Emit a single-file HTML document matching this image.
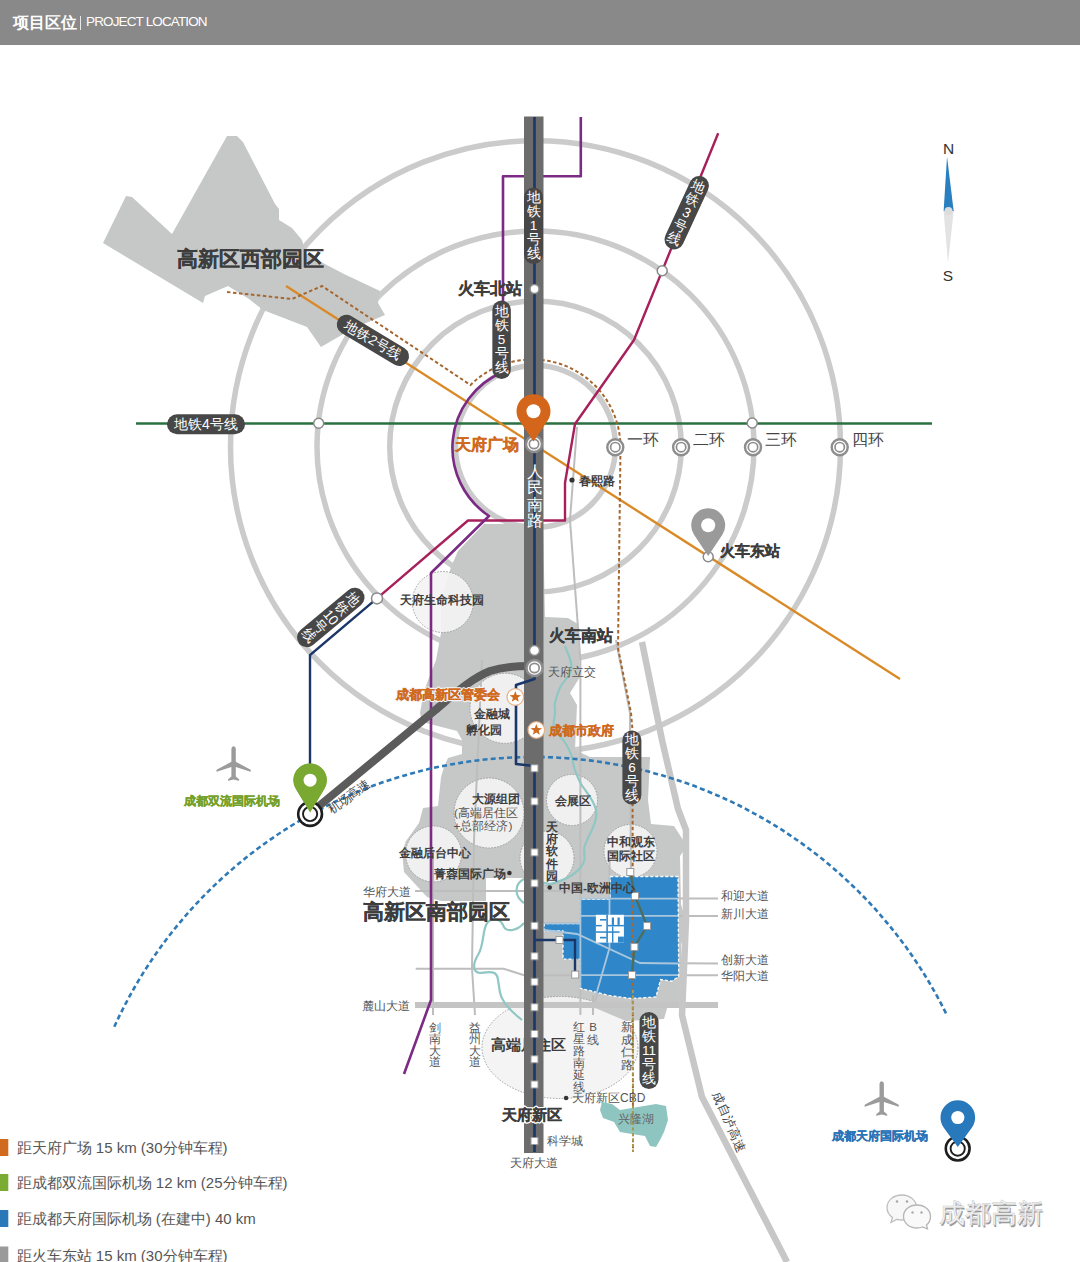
<!DOCTYPE html>
<html><head><meta charset="utf-8"><style>
html,body{margin:0;padding:0;background:#fff;}
body{width:1080px;height:1262px;position:relative;overflow:hidden;font-family:"Liberation Sans",sans-serif;}
#hdr{position:absolute;left:0;top:0;width:1080px;height:45px;background:#898989;}
#hdr .cn{position:absolute;left:13px;top:13px;font-size:16px;font-weight:bold;color:#fff;line-height:20px;}
#hdr .sep{position:absolute;left:80px;top:15.5px;width:1px;height:14px;background:#e8e8e8;}
#hdr .en{position:absolute;left:86px;top:13px;font-size:13.5px;color:#fff;line-height:18px;letter-spacing:-0.86px;}
svg{position:absolute;left:0;top:0;}
svg text{font-family:"Liberation Sans",sans-serif;}
</style></head><body>
<div id="hdr"><span class="cn">项目区位</span><span class="sep"></span><span class="en">PROJECT LOCATION</span></div>
<svg width="1080" height="1262" viewBox="0 0 1080 1262">
<ellipse cx="535.5" cy="446.5" rx="80" ry="81" fill="none" stroke="#cbcbcb" stroke-width="5.5"/>
<ellipse cx="535.5" cy="446.5" rx="145.8" ry="145.4" fill="none" stroke="#cbcbcb" stroke-width="5.5"/>
<ellipse cx="535.5" cy="446.5" rx="218.5" ry="215.5" fill="none" stroke="#cbcbcb" stroke-width="5.5"/>
<ellipse cx="535.5" cy="446.5" rx="305" ry="305.8" fill="none" stroke="#cbcbcb" stroke-width="5.5"/>
<polygon points="227,136 237,136 243,142 275,204 279,209 279,220 292,228 302,240 306,254 344,274 380,291 378,303 385,315 352,329 321,347 307,327 263,310 249,299 228,286 205,296 203,303 103,243 126,196 132,197 172,234" fill="#c6c8c7" />
<polygon points="484,524 543,524 545,617 568,618 578,624 580,677 570,693 577,705 575,750 590,757 650,757 648,800 651,824 674,826 687,846 680,856 681,904 687,924 681,945 683,985 679,1005 543,1005 543,878 486,878 486,901 441,901 427,897 404,872 402,852 406,841 419,823 423,808 438,806 441,777 444,767 448,758 462,754 462,740 457,731 422,722 420,713 424,691 430,675 436,660 441,633 441,600 447,581 451,567 458,551" fill="#c6c8c7" />
<circle cx="442.8" cy="602" r="30.5" fill="#f3f3f3" fill-opacity="0.92" stroke="#9c9c9c" stroke-width="1" stroke-dasharray="1.5 1.5"/>
<circle cx="505" cy="708.3" r="35" fill="#f3f3f3" fill-opacity="0.92" stroke="#9c9c9c" stroke-width="1" stroke-dasharray="1.5 1.5"/>
<circle cx="489" cy="813" r="35" fill="#f3f3f3" fill-opacity="0.92" stroke="#9c9c9c" stroke-width="1" stroke-dasharray="1.5 1.5"/>
<circle cx="572" cy="800" r="25.5" fill="#f3f3f3" fill-opacity="0.92" stroke="#9c9c9c" stroke-width="1" stroke-dasharray="1.5 1.5"/>
<circle cx="547" cy="858" r="27" fill="#f3f3f3" fill-opacity="0.92" stroke="#9c9c9c" stroke-width="1" stroke-dasharray="1.5 1.5"/>
<circle cx="433.5" cy="854" r="28" fill="#f3f3f3" fill-opacity="0.92" stroke="#9c9c9c" stroke-width="1" stroke-dasharray="1.5 1.5"/>
<circle cx="630.5" cy="851" r="26.5" fill="#f3f3f3" fill-opacity="0.92" stroke="#9c9c9c" stroke-width="1" stroke-dasharray="1.5 1.5"/>
<ellipse cx="560" cy="1047.5" rx="78" ry="51" fill="#f3f3f3" fill-opacity="0.92" stroke="#9c9c9c" stroke-width="1" stroke-dasharray="1.5 1.5"/>
<polyline points="577,427 570,520 580.4,660 580.4,1015" fill="none" stroke="#bdbdbd" stroke-width="2" />
<polyline points="616,640 630,713 630,730 632,1022" fill="none" stroke="#bdbdbd" stroke-width="2" />
<polyline points="482,660 474,840 472,968 475,1015" fill="none" stroke="#bdbdbd" stroke-width="2" />
<polyline points="433,850 433,1015" fill="none" stroke="#bdbdbd" stroke-width="2" />
<polyline points="415,891 677,891" fill="none" stroke="#bdbdbd" stroke-width="2" />
<polyline points="677,898.6 718,898.6" fill="none" stroke="#bdbdbd" stroke-width="2" />
<polyline points="580,915.9 718,915.9" fill="none" stroke="#bdbdbd" stroke-width="2" />
<polyline points="543,923 580,923" fill="none" stroke="#bdbdbd" stroke-width="2" />
<polyline points="544,930 577,934 640,963 718,963.5" fill="none" stroke="#bdbdbd" stroke-width="2" />
<polyline points="415.7,968.7 503.7,968.7 524,975.2 718,975.2" fill="none" stroke="#bdbdbd" stroke-width="2" />
<polyline points="609.5,860 609.5,948 593,1009" fill="none" stroke="#bdbdbd" stroke-width="2" />
<polyline points="593,995 593,1015" fill="none" stroke="#bdbdbd" stroke-width="2" />
<polygon points="588,1005 626,1021 664,1019 668,1005" fill="#c6c8c7" />
<polyline points="415,1005 718,1005" fill="none" stroke="#c4c4c4" stroke-width="6" />
<polyline points="642,642 662,740 678,809 686,830 686,920 682,1015 702,1097 787,1262" fill="none" stroke="#c7c7c7" stroke-width="6.5" stroke-linejoin="round"/>
<path d="M565,646 C568,655 573,662 571,670 C569,678 561,683 559,690 C556,698 554,703 555,710 C556,716 552,722 554,728 C557,735 563,738 566,744 C569,750 572,754 573,762 C574,770 577,776 581,784 C586,792 594,800 596,810 C598,822 590,832 585,845 C582,852 588,858 581,867 C574,876 562,881 550,884 L524,879 C514,884 514,896 524,903 M524,923 C518,930 506,934 503,925 C500,918 490,917 486,925 C482,935 484,945 478,955 C473,963 472,972 480,973 C490,972 497,970 498,980 C500,990 499,994 503,1000 C506,1006 512,1012 522,1020" fill="none" stroke="#8fc7c4" stroke-width="2.2"/>
<polygon points="610.3,876.5 678,876.5 678.7,976.5 671.7,981.2 660.6,979.6 655.9,997 630.7,998.5 608.7,995.4 580.4,988.3 580.4,959.2 563,959.2 563,930.8 544.2,930.8 544.2,923.7 580.4,923.7 580.4,899.4 610.3,899.4" fill="#2f87c9" stroke="#ffffff" stroke-width="1.3" stroke-dasharray="3 2"/>
<polyline points="580.4,898.6 678,898.6" fill="none" stroke="#a9c6dd" stroke-width="1.8" />
<polyline points="580.4,915.9 678,915.9" fill="none" stroke="#a9c6dd" stroke-width="1.8" />
<polyline points="544.2,923.5 580.4,923.5" fill="none" stroke="#a9c6dd" stroke-width="1.6" />
<polyline points="544.2,930 577,934 640,963 678,963.5" fill="none" stroke="#a9c6dd" stroke-width="1.8" />
<polyline points="580.4,975.2 678,975.2" fill="none" stroke="#a9c6dd" stroke-width="1.8" />
<polyline points="609.5,876.5 609.5,948 596,995" fill="none" stroke="#a9c6dd" stroke-width="1.8" />
<polyline points="580.4,899 580.4,988" fill="none" stroke="#a9c6dd" stroke-width="1.8" />
<rect x="595.9" y="914.8" width="28" height="27.8" fill="#fff"/>
<g fill="#2f87c9"><rect x="606.3" y="914.8" width="1.6" height="27.8"/><rect x="595.9" y="924.9" width="5.9" height="1.5"/><rect x="608" y="924.9" width="15.9" height="1.5"/><rect x="595.9" y="931.3" width="23.7" height="1.5"/><rect x="612" y="926.4" width="1.4" height="16.2"/><rect x="600" y="919" width="6.3" height="1.6"/><rect x="611.8" y="917.5" width="2.2" height="7.4"/><rect x="617.5" y="917.5" width="2.2" height="7.4"/><rect x="600" y="936.8" width="6.3" height="1.7"/><rect x="618" y="936.6" width="5.9" height="6"/></g>
<polyline points="136,423.5 932,423.5" fill="none" stroke="#2b7040" stroke-width="2.4" />
<polyline points="286,286 900,679" fill="none" stroke="#d98a27" stroke-width="2.4" />
<path d="M227,292 L292,299 L322,286 L470.5,385 A88,88 0 0 1 620.5,447 L618,648 L631,713 L632.5,730 L633,1152" fill="none" stroke="#a5672f" stroke-width="2" stroke-dasharray="3.5 2.5"/>
<polyline points="718.2,133.2 634,340 575,424 565,483 565,520.5 468,520.5 377,598.4" fill="none" stroke="#a71f5b" stroke-width="2.4" stroke-linejoin="round"/>
<polyline points="377,598.4 310,655 310,770" fill="none" stroke="#1b3668" stroke-width="2.4" />
<path d="M580.8,117 L580.8,176.3 L503,176.3 L503,372 A82,82 0 0 0 489,516 L431,573 L431,1000 L404,1074" fill="none" stroke="#7b2b84" stroke-width="2.6" stroke-linejoin="round"/>
<path d="M114.3,1026.8 A460.3,460.3 0 0 1 946.1,1013.6" fill="none" stroke="#2f7ab6" stroke-width="2.6" stroke-dasharray="5 3.2"/>
<path d="M313,811 L433,712 C452,696 470,679 490,671 C503,667 515,666 530,666" fill="none" stroke="#5b5b5b" stroke-width="8"/>
<text x="528.9" y="1045" font-size="14.8" fill="#3d3d3d" font-weight="bold" text-anchor="middle" dominant-baseline="central">高端居住区</text>
<rect x="524" y="116.5" width="19.5" height="1036.5" fill="#6c6c6c"/>
<polyline points="534.5,117 534.5,650" fill="none" stroke="#1b3668" stroke-width="2.6" />
<polyline points="534.5,668 534.5,679 516,685 516,764 534.5,766 534.5,1152" fill="none" stroke="#1b3668" stroke-width="2.6" stroke-linejoin="round"/>
<polyline points="534.5,940 575,940 575,975" fill="none" stroke="#1b3668" stroke-width="2.4" />
<polyline points="630.3,872 635,896 647,926 634.4,947 632,975" fill="none" stroke="#4b6e5e" stroke-width="2.4" />
<circle cx="534.5" cy="289" r="4.5" fill="#fff" stroke="#8a8a8a" stroke-width="1.5"/>
<circle cx="534.5" cy="650.4" r="5" fill="#fff" stroke="#8a8a8a" stroke-width="1.5"/>
<circle cx="534.5" cy="668" r="8" fill="#fff" stroke="#8d8d8d" stroke-width="2.4"/>
<circle cx="534.5" cy="668" r="4.7" fill="#fff" stroke="#8d8d8d" stroke-width="1.7"/>
<circle cx="534" cy="444" r="8" fill="#fff" stroke="#8d8d8d" stroke-width="2.4"/>
<circle cx="534" cy="444" r="4.7" fill="#fff" stroke="#8d8d8d" stroke-width="1.7"/>
<circle cx="318.7" cy="423.2" r="5" fill="#fff" stroke="#8a8a8a" stroke-width="1.5"/>
<circle cx="752.2" cy="423" r="5" fill="#fff" stroke="#8a8a8a" stroke-width="1.5"/>
<circle cx="662.2" cy="270.7" r="5" fill="#fff" stroke="#8a8a8a" stroke-width="1.5"/>
<circle cx="377" cy="598.4" r="5.5" fill="#fff" stroke="#8a8a8a" stroke-width="1.5"/>
<circle cx="708.2" cy="556.8" r="5" fill="#fff" stroke="#8a8a8a" stroke-width="1.5"/>
<circle cx="615.3" cy="447.2" r="8" fill="#fff" stroke="#8d8d8d" stroke-width="2.4"/>
<circle cx="615.3" cy="447.2" r="4.7" fill="#fff" stroke="#8d8d8d" stroke-width="1.7"/>
<circle cx="681.1" cy="447.2" r="8" fill="#fff" stroke="#8d8d8d" stroke-width="2.4"/>
<circle cx="681.1" cy="447.2" r="4.7" fill="#fff" stroke="#8d8d8d" stroke-width="1.7"/>
<circle cx="753" cy="447.2" r="8" fill="#fff" stroke="#8d8d8d" stroke-width="2.4"/>
<circle cx="753" cy="447.2" r="4.7" fill="#fff" stroke="#8d8d8d" stroke-width="1.7"/>
<circle cx="839.7" cy="447.2" r="8" fill="#fff" stroke="#8d8d8d" stroke-width="2.4"/>
<circle cx="839.7" cy="447.2" r="4.7" fill="#fff" stroke="#8d8d8d" stroke-width="1.7"/>
<rect x="531.0" y="764.8" width="7" height="7" fill="#fff" stroke="#9a9a9a" stroke-width="1"/>
<rect x="531.0" y="797.9" width="7" height="7" fill="#fff" stroke="#9a9a9a" stroke-width="1"/>
<rect x="531.0" y="848.9" width="7" height="7" fill="#fff" stroke="#9a9a9a" stroke-width="1"/>
<rect x="531.0" y="879.8" width="7" height="7" fill="#fff" stroke="#9a9a9a" stroke-width="1"/>
<rect x="531.0" y="922.3" width="7" height="7" fill="#fff" stroke="#9a9a9a" stroke-width="1"/>
<rect x="531.0" y="952.8" width="7" height="7" fill="#fff" stroke="#9a9a9a" stroke-width="1"/>
<rect x="531.0" y="978.3" width="7" height="7" fill="#fff" stroke="#9a9a9a" stroke-width="1"/>
<rect x="531.0" y="1003.8" width="7" height="7" fill="#fff" stroke="#9a9a9a" stroke-width="1"/>
<rect x="531.0" y="1030.5" width="7" height="7" fill="#fff" stroke="#9a9a9a" stroke-width="1"/>
<rect x="531.0" y="1055.8" width="7" height="7" fill="#fff" stroke="#9a9a9a" stroke-width="1"/>
<rect x="531.0" y="1081.0" width="7" height="7" fill="#fff" stroke="#9a9a9a" stroke-width="1"/>
<rect x="531.0" y="1137.5" width="7" height="7" fill="#fff" stroke="#9a9a9a" stroke-width="1"/>
<rect x="556.0" y="936.5" width="7" height="7" fill="#fff" stroke="#9a9a9a" stroke-width="1"/>
<rect x="571.7" y="971.1" width="7" height="7" fill="#fff" stroke="#9a9a9a" stroke-width="1"/>
<rect x="626.8" y="868.5" width="7" height="7" fill="#fff" stroke="#9a9a9a" stroke-width="1"/>
<rect x="631.5" y="892.5" width="7" height="7" fill="#fff" stroke="#9a9a9a" stroke-width="1"/>
<rect x="643.5" y="922.5" width="7" height="7" fill="#fff" stroke="#9a9a9a" stroke-width="1"/>
<rect x="630.9" y="943.5" width="7" height="7" fill="#fff" stroke="#9a9a9a" stroke-width="1"/>
<rect x="628.5" y="971.5" width="7" height="7" fill="#fff" stroke="#9a9a9a" stroke-width="1"/>
<g transform="translate(533.5,225.75) rotate(0)">
<rect x="-9.5" y="-38.25" width="19" height="76.5" rx="9.5" fill="#474747"/>
<text x="0" y="-28.20" font-size="13.5" fill="#fff" text-anchor="middle" dominant-baseline="central">地</text>
<text x="0" y="-14.10" font-size="13.5" fill="#fff" text-anchor="middle" dominant-baseline="central">铁</text>
<text x="0" y="0.00" font-size="13.5" fill="#fff" text-anchor="middle" dominant-baseline="central">1</text>
<text x="0" y="14.10" font-size="13.5" fill="#fff" text-anchor="middle" dominant-baseline="central">号</text>
<text x="0" y="28.20" font-size="13.5" fill="#fff" text-anchor="middle" dominant-baseline="central">线</text>
</g>
<g transform="translate(501.6,339.8) rotate(0)">
<rect x="-9.25" y="-39.2" width="18.5" height="78.4" rx="9.25" fill="#474747"/>
<text x="0" y="-28.20" font-size="13.5" fill="#fff" text-anchor="middle" dominant-baseline="central">地</text>
<text x="0" y="-14.10" font-size="13.5" fill="#fff" text-anchor="middle" dominant-baseline="central">铁</text>
<text x="0" y="0.00" font-size="13.5" fill="#fff" text-anchor="middle" dominant-baseline="central">5</text>
<text x="0" y="14.10" font-size="13.5" fill="#fff" text-anchor="middle" dominant-baseline="central">号</text>
<text x="0" y="28.20" font-size="13.5" fill="#fff" text-anchor="middle" dominant-baseline="central">线</text>
</g>
<g transform="translate(631.9,767.5) rotate(0)">
<rect x="-9.5" y="-37.0" width="19" height="74" rx="9.5" fill="#474747"/>
<text x="0" y="-27.60" font-size="13.5" fill="#fff" text-anchor="middle" dominant-baseline="central">地</text>
<text x="0" y="-13.80" font-size="13.5" fill="#fff" text-anchor="middle" dominant-baseline="central">铁</text>
<text x="0" y="0.00" font-size="13.5" fill="#fff" text-anchor="middle" dominant-baseline="central">6</text>
<text x="0" y="13.80" font-size="13.5" fill="#fff" text-anchor="middle" dominant-baseline="central">号</text>
<text x="0" y="27.60" font-size="13.5" fill="#fff" text-anchor="middle" dominant-baseline="central">线</text>
</g>
<g transform="translate(649,1050.5) rotate(0)">
<rect x="-9.5" y="-38.5" width="19" height="77" rx="9.5" fill="#474747"/>
<text x="0" y="-28.20" font-size="13.5" fill="#fff" text-anchor="middle" dominant-baseline="central">地</text>
<text x="0" y="-14.10" font-size="13.5" fill="#fff" text-anchor="middle" dominant-baseline="central">铁</text>
<text x="0" y="0.00" font-size="13.5" fill="#fff" text-anchor="middle" dominant-baseline="central">11</text>
<text x="0" y="14.10" font-size="13.5" fill="#fff" text-anchor="middle" dominant-baseline="central">号</text>
<text x="0" y="28.20" font-size="13.5" fill="#fff" text-anchor="middle" dominant-baseline="central">线</text>
</g>
<g transform="translate(686.7,212.7) rotate(24.8)">
<rect x="-9.75" y="-39.5" width="19.5" height="79" rx="9.75" fill="#474747"/>
<text x="0" y="-28.60" font-size="13.8" fill="#fff" text-anchor="middle" dominant-baseline="central">地</text>
<text x="0" y="-14.30" font-size="13.8" fill="#fff" text-anchor="middle" dominant-baseline="central">铁</text>
<text x="0" y="0.00" font-size="13.8" fill="#fff" text-anchor="middle" dominant-baseline="central">3</text>
<text x="0" y="14.30" font-size="13.8" fill="#fff" text-anchor="middle" dominant-baseline="central">号</text>
<text x="0" y="28.60" font-size="13.8" fill="#fff" text-anchor="middle" dominant-baseline="central">线</text>
</g>
<g transform="translate(330.75,617.4) rotate(50.2)">
<rect x="-9.75" y="-41.0" width="19.5" height="82" rx="9.75" fill="#474747"/>
<text x="0" y="-28.60" font-size="13.8" fill="#fff" text-anchor="middle" dominant-baseline="central">地</text>
<text x="0" y="-14.30" font-size="13.8" fill="#fff" text-anchor="middle" dominant-baseline="central">铁</text>
<text x="0" y="0.00" font-size="13.8" fill="#fff" text-anchor="middle" dominant-baseline="central">10</text>
<text x="0" y="14.30" font-size="13.8" fill="#fff" text-anchor="middle" dominant-baseline="central">号</text>
<text x="0" y="28.60" font-size="13.8" fill="#fff" text-anchor="middle" dominant-baseline="central">线</text>
</g>
<g transform="translate(372.9,340.4) rotate(31)">
<rect x="-40.5" y="-9.75" width="81" height="19.5" rx="9.75" fill="#474747"/>
<text x="0" y="0" font-size="13.8" fill="#fff" text-anchor="middle" dominant-baseline="central">地铁2号线</text>
</g>
<g transform="translate(206,424.3) rotate(0)">
<rect x="-39.0" y="-10.0" width="78" height="20" rx="10.0" fill="#474747"/>
<text x="0" y="0" font-size="14" fill="#fff" text-anchor="middle" dominant-baseline="central">地铁4号线</text>
</g>
<path d="M533.5,441.5 L519.45,420.87 A17,17 0 1 1 547.55,420.87 Z" fill="#d4661b"/>
<circle cx="533.5" cy="411.3" r="7" fill="#fff"/>
<path d="M708.2,556 L694.04,534.71 A17,17 0 1 1 722.36,534.71 Z" fill="#9a9a9a"/>
<circle cx="708.2" cy="525.3" r="7" fill="#fff"/>
<path d="M310.1,812.6 L295.79,788.81 A16.7,16.7 0 1 1 324.41,788.81 Z" fill="#7aa932"/>
<circle cx="310.1" cy="780.2" r="6.5" fill="#fff"/>
<circle cx="310.1" cy="814" r="11.9" fill="#fff" stroke="#1e1e1e" stroke-width="2.6"/>
<circle cx="310.1" cy="814" r="7.1" fill="#fff" stroke="#1e1e1e" stroke-width="1.9"/>
<circle cx="957.7" cy="1148.6" r="11.9" fill="#fff" stroke="#1e1e1e" stroke-width="2.6"/>
<circle cx="957.7" cy="1148.6" r="7.1" fill="#fff" stroke="#1e1e1e" stroke-width="1.9"/>
<path d="M310.1,812.6 L295.79,788.81 A16.7,16.7 0 1 1 324.41,788.81 Z" fill="#7aa932"/>
<circle cx="310.1" cy="780.2" r="6.5" fill="#fff"/>
<path d="M957.8,1147 L943.79,1127.65 A17.3,17.3 0 1 1 971.81,1127.65 Z" fill="#2878bc"/>
<circle cx="957.8" cy="1117.5" r="6.6" fill="#fff"/>
<circle cx="515.3" cy="697" r="8.3" fill="#fff" stroke="#e3b08a" stroke-width="1.2"/>
<polygon points="515.3,691.0 516.77,694.98 521.01,695.15 517.68,697.77 518.83,701.85 515.3,699.5 511.77,701.85 512.92,697.77 509.59,695.15 513.83,694.98" fill="#cf6a1f" />
<circle cx="536.3" cy="730" r="8.3" fill="#fff" stroke="#e3b08a" stroke-width="1.2"/>
<polygon points="536.3,724.0 537.77,727.98 542.01,728.15 538.68,730.77 539.83,734.85 536.3,732.5 532.77,734.85 533.92,730.77 530.59,728.15 534.83,727.98" fill="#cf6a1f" />
<g transform="translate(233.6,764) scale(1.0)" fill="#9b9b9b"><path d="M-2.2,-15 Q-2.2,-17.6 0,-17.8 Q2.2,-17.6 2.2,-15 L2.2,-2.2 L16.6,5.6 Q17.6,6.4 17,7.8 L2.2,2.9 L2.2,12.6 L5.4,15.2 Q6,16.4 5.2,16.8 L0,15.4 L-5.2,16.8 Q-6,16.4 -5.4,15.2 L-2.2,12.6 L-2.2,2.9 L-17,7.8 Q-17.6,6.4 -16.6,5.6 L-2.2,-2.2 Z"/></g>
<g transform="translate(881.7,1099) scale(1.0)" fill="#9b9b9b"><path d="M-2.2,-15 Q-2.2,-17.6 0,-17.8 Q2.2,-17.6 2.2,-15 L2.2,-2.2 L16.6,5.6 Q17.6,6.4 17,7.8 L2.2,2.9 L2.2,12.6 L5.4,15.2 Q6,16.4 5.2,16.8 L0,15.4 L-5.2,16.8 Q-6,16.4 -5.4,15.2 L-2.2,12.6 L-2.2,2.9 L-17,7.8 Q-17.6,6.4 -16.6,5.6 L-2.2,-2.2 Z"/></g>
<text x="176.5" y="258.5" font-size="21" fill="#3d3d3d" font-weight="bold" text-anchor="start" dominant-baseline="central" stroke="#3d3d3d" stroke-width="0.25">高新区西部园区</text>
<text x="457.5" y="288" font-size="15.9" fill="#3d3d3d" font-weight="bold" text-anchor="start" dominant-baseline="central"  stroke="#3d3d3d" stroke-width="0.3">火车北站</text>
<text x="454.8" y="444.6" font-size="15.75" fill="#cf6a1f" font-weight="bold" text-anchor="start" dominant-baseline="central"  stroke="#cf6a1f" stroke-width="0.3">天府广场</text>
<text x="534.5" y="471.5" font-size="16" fill="#ffffff" font-weight="normal" text-anchor="middle" dominant-baseline="central" >人</text>
<text x="534.5" y="487.8" font-size="16" fill="#ffffff" font-weight="normal" text-anchor="middle" dominant-baseline="central" >民</text>
<text x="534.5" y="504.1" font-size="16" fill="#ffffff" font-weight="normal" text-anchor="middle" dominant-baseline="central" >南</text>
<text x="534.5" y="520.4" font-size="16" fill="#ffffff" font-weight="normal" text-anchor="middle" dominant-baseline="central" >路</text>
<circle cx="572" cy="480" r="2.6" fill="#333"/>
<text x="579" y="480" font-size="11.7" fill="#3d3d3d" font-weight="bold" text-anchor="start" dominant-baseline="central" >春熙路</text>
<text x="627.3" y="439.5" font-size="15.8" fill="#444" font-weight="normal" text-anchor="start" dominant-baseline="central" >一环</text>
<text x="693.3" y="439.5" font-size="15.8" fill="#444" font-weight="normal" text-anchor="start" dominant-baseline="central" >二环</text>
<text x="765" y="439.5" font-size="15.8" fill="#444" font-weight="normal" text-anchor="start" dominant-baseline="central" >三环</text>
<text x="851.7" y="439.5" font-size="15.8" fill="#444" font-weight="normal" text-anchor="start" dominant-baseline="central" >四环</text>
<text x="719.5" y="550" font-size="15.4" fill="#3d3d3d" font-weight="bold" text-anchor="start" dominant-baseline="central"  stroke="#3d3d3d" stroke-width="0.3">火车东站</text>
<text x="400.4" y="599.7" font-size="12.1" fill="#3d3d3d" font-weight="bold" text-anchor="start" dominant-baseline="central" >天府生命科技园</text>
<text x="548.9" y="635.3" font-size="15.5" fill="#3d3d3d" font-weight="bold" text-anchor="start" dominant-baseline="central"  stroke="#3d3d3d" stroke-width="0.3">火车南站</text>
<text x="547.5" y="671.8" font-size="11.6" fill="#555" font-weight="normal" text-anchor="start" dominant-baseline="central" >天府立交</text>
<text x="395.6" y="694.5" font-size="13.2" fill="#fff" font-weight="bold" text-anchor="start" dominant-baseline="central" stroke="#f4f4f4" stroke-width="2.6" stroke-linejoin="round">成都高新区管委会</text>
<text x="395.6" y="694.5" font-size="13.2" fill="#cf6a1f" font-weight="bold" text-anchor="start" dominant-baseline="central"  stroke="#cf6a1f" stroke-width="0.3">成都高新区管委会</text>
<text x="548.5" y="730.6" font-size="13.2" fill="#cf6a1f" font-weight="bold" text-anchor="start" dominant-baseline="central"  stroke="#cf6a1f" stroke-width="0.3">成都市政府</text>
<text x="492" y="713.9" font-size="11.7" fill="#3d3d3d" font-weight="bold" text-anchor="middle" dominant-baseline="central" >金融城</text>
<text x="484" y="729.5" font-size="11.7" fill="#3d3d3d" font-weight="bold" text-anchor="middle" dominant-baseline="central" >孵化园</text>
<text x="183.5" y="801.3" font-size="12.3" fill="#73a12b" font-weight="bold" text-anchor="start" dominant-baseline="central" stroke="#73a12b" stroke-width="0.25">成都双流国际机场</text>
<text transform="translate(349,797) rotate(-36)" font-size="12.3" fill="#444" text-anchor="middle" dominant-baseline="central">机场高速</text>
<text x="495.5" y="799" font-size="12" fill="#3d3d3d" font-weight="bold" text-anchor="middle" dominant-baseline="central" >大源组团</text>
<text x="486" y="813" font-size="11.8" fill="#555" font-weight="normal" text-anchor="middle" dominant-baseline="central" >(高端居住区</text>
<text x="483" y="826" font-size="11.8" fill="#555" font-weight="normal" text-anchor="middle" dominant-baseline="central" >+总部经济)</text>
<text x="572.5" y="800" font-size="11.6" fill="#3d3d3d" font-weight="bold" text-anchor="middle" dominant-baseline="central" >会展区</text>
<text x="551.6" y="826.5" font-size="12.2" fill="#3d3d3d" font-weight="bold" text-anchor="middle" dominant-baseline="central" >天</text>
<text x="551.6" y="838.9" font-size="12.2" fill="#3d3d3d" font-weight="bold" text-anchor="middle" dominant-baseline="central" >府</text>
<text x="551.6" y="851.3" font-size="12.2" fill="#3d3d3d" font-weight="bold" text-anchor="middle" dominant-baseline="central" >软</text>
<text x="551.6" y="863.7" font-size="12.2" fill="#3d3d3d" font-weight="bold" text-anchor="middle" dominant-baseline="central" >件</text>
<text x="551.6" y="876.1" font-size="12.2" fill="#3d3d3d" font-weight="bold" text-anchor="middle" dominant-baseline="central" >园</text>
<text x="434.5" y="853.3" font-size="11.8" fill="#3d3d3d" font-weight="bold" text-anchor="middle" dominant-baseline="central" >金融后台中心</text>
<text x="434" y="873" font-size="11.7" fill="#3d3d3d" font-weight="bold" text-anchor="start" dominant-baseline="central" >菁蓉国际广场</text>
<circle cx="509.4" cy="873" r="2.3" fill="#333"/>
<circle cx="549.7" cy="887.5" r="2.3" fill="#333"/>
<text x="559.1" y="887.5" font-size="11.8" fill="#3d3d3d" font-weight="bold" text-anchor="start" dominant-baseline="central" >中国-欧洲中心</text>
<text x="630.5" y="842.4" font-size="11.8" fill="#3d3d3d" font-weight="bold" text-anchor="middle" dominant-baseline="central" >中和观东</text>
<text x="630.5" y="856" font-size="11.8" fill="#3d3d3d" font-weight="bold" text-anchor="middle" dominant-baseline="central" >国际社区</text>
<text x="363" y="891" font-size="11.75" fill="#555" font-weight="normal" text-anchor="start" dominant-baseline="central" >华府大道</text>
<text x="362.5" y="911.3" font-size="20.7" fill="#3d3d3d" font-weight="bold" text-anchor="start" dominant-baseline="central" stroke="#3d3d3d" stroke-width="0.25">高新区南部园区</text>
<text x="361.5" y="1005.3" font-size="11.75" fill="#555" font-weight="normal" text-anchor="start" dominant-baseline="central" >麓山大道</text>
<text x="435" y="1027.3" font-size="11.7" fill="#555" font-weight="normal" text-anchor="middle" dominant-baseline="central" >剑</text>
<text x="435" y="1038.7" font-size="11.7" fill="#555" font-weight="normal" text-anchor="middle" dominant-baseline="central" >南</text>
<text x="435" y="1050.1" font-size="11.7" fill="#555" font-weight="normal" text-anchor="middle" dominant-baseline="central" >大</text>
<text x="435" y="1061.5" font-size="11.7" fill="#555" font-weight="normal" text-anchor="middle" dominant-baseline="central" >道</text>
<text x="475" y="1027.3" font-size="11.7" fill="#555" font-weight="normal" text-anchor="middle" dominant-baseline="central" >益</text>
<text x="475" y="1038.7" font-size="11.7" fill="#555" font-weight="normal" text-anchor="middle" dominant-baseline="central" >州</text>
<text x="475" y="1050.1" font-size="11.7" fill="#555" font-weight="normal" text-anchor="middle" dominant-baseline="central" >大</text>
<text x="475" y="1061.5" font-size="11.7" fill="#555" font-weight="normal" text-anchor="middle" dominant-baseline="central" >道</text>
<text x="579" y="1027" font-size="11.5" fill="#555" font-weight="normal" text-anchor="middle" dominant-baseline="central" >红</text>
<text x="579" y="1039" font-size="11.5" fill="#555" font-weight="normal" text-anchor="middle" dominant-baseline="central" >星</text>
<text x="579" y="1051" font-size="11.5" fill="#555" font-weight="normal" text-anchor="middle" dominant-baseline="central" >路</text>
<text x="579" y="1063" font-size="11.5" fill="#555" font-weight="normal" text-anchor="middle" dominant-baseline="central" >南</text>
<text x="579" y="1075" font-size="11.5" fill="#555" font-weight="normal" text-anchor="middle" dominant-baseline="central" >延</text>
<text x="579" y="1087" font-size="11.5" fill="#555" font-weight="normal" text-anchor="middle" dominant-baseline="central" >线</text>
<text x="593.2" y="1027.0" font-size="11.5" fill="#555" font-weight="normal" text-anchor="middle" dominant-baseline="central" >B</text>
<text x="593.2" y="1039.5" font-size="11.5" fill="#555" font-weight="normal" text-anchor="middle" dominant-baseline="central" >线</text>
<text x="627" y="1027.0" font-size="11.5" fill="#555" font-weight="normal" text-anchor="middle" dominant-baseline="central" >新</text>
<text x="627" y="1039.5" font-size="11.5" fill="#555" font-weight="normal" text-anchor="middle" dominant-baseline="central" >成</text>
<text x="627" y="1052.0" font-size="11.5" fill="#555" font-weight="normal" text-anchor="middle" dominant-baseline="central" >仁</text>
<text x="627" y="1064.5" font-size="11.5" fill="#555" font-weight="normal" text-anchor="middle" dominant-baseline="central" >路</text>
<circle cx="566.1" cy="1098" r="2.3" fill="#333"/>
<text x="572" y="1098" font-size="12" fill="#555" font-weight="normal" text-anchor="start" dominant-baseline="central" >天府新区CBD</text>
<text x="532.4" y="1114" font-size="15" fill="#fff" font-weight="bold" text-anchor="middle" dominant-baseline="central" stroke="#fff" stroke-width="3" stroke-linejoin="round">天府新区</text>
<text x="532.4" y="1114" font-size="15" fill="#3d3d3d" font-weight="bold" text-anchor="middle" dominant-baseline="central"  stroke="#3d3d3d" stroke-width="0.3">天府新区</text>
<text x="546.6" y="1140.5" font-size="12" fill="#555" font-weight="normal" text-anchor="start" dominant-baseline="central" >科学城</text>
<text x="533.7" y="1162.5" font-size="11.65" fill="#555" font-weight="normal" text-anchor="middle" dominant-baseline="central" >天府大道</text>
<polygon points="602,1102 612,1104 620,1110 638,1107 656,1104 666,1106 668,1120 664,1132 660,1140 656,1147 650,1146 645,1136 632,1134 620,1132 614,1122 603,1118 600,1110" fill="#8fc5c1" />
<polyline points="633,990 633,1152" fill="none" stroke="#a89a4a" stroke-width="2" stroke-dasharray="3 2.5"/>
<text x="636.3" y="1119" font-size="12" fill="#666" font-weight="normal" text-anchor="middle" dominant-baseline="central" >兴隆湖</text>
<text transform="translate(729.2,1122.2) rotate(66)" font-size="12.5" fill="#444" text-anchor="middle" dominant-baseline="central">成自泸高速</text>
<text x="721" y="896" font-size="11.8" fill="#555" font-weight="normal" text-anchor="start" dominant-baseline="central" >和迎大道</text>
<text x="721" y="914.4" font-size="11.8" fill="#555" font-weight="normal" text-anchor="start" dominant-baseline="central" >新川大道</text>
<text x="721" y="960" font-size="11.8" fill="#555" font-weight="normal" text-anchor="start" dominant-baseline="central" >创新大道</text>
<text x="721" y="976" font-size="11.8" fill="#555" font-weight="normal" text-anchor="start" dominant-baseline="central" >华阳大道</text>
<text x="831.6" y="1135.7" font-size="12.4" fill="#2a74b8" font-weight="bold" text-anchor="start" dominant-baseline="central" stroke="#2a74b8" stroke-width="0.25">成都天府国际机场</text>
<text x="948.7" y="148.3" font-size="15.5" fill="#333" text-anchor="middle" dominant-baseline="central">N</text>
<text x="948" y="275.5" font-size="15.5" fill="#333" text-anchor="middle" dominant-baseline="central">S</text>
<path d="M947,156.6 L953.7,211 L943.6,211 Z" fill="#2a7fc0"/>
<path d="M943.6,211 L953.7,211 L948,263 Z" fill="#e3e3e3"/>
<circle cx="948.5" cy="211" r="4" fill="#dcdcdc"/>
<g transform="translate(0,0)"><path d="M902,1195 C910,1195 916.5,1200.5 916.5,1207.5 C916.5,1214.5 910,1220 902,1220 C900,1220 898.5,1219.8 897,1219.3 L891,1222.5 L892.5,1217.5 C889,1215 887,1211.5 887,1207.5 C887,1200.5 893.5,1195 902,1195 Z" fill="#f7f7f7" stroke="#bdbdbd" stroke-width="1.3"/><path d="M917,1205 C924.5,1205 930.5,1210 930.5,1216.5 C930.5,1220 929,1223 926.5,1225 L927.5,1229 L922.5,1227 C920.8,1227.6 919,1228 917,1228 C909.5,1228 903.5,1223 903.5,1216.5 C903.5,1210 909.5,1205 917,1205 Z" fill="#f9f9f9" stroke="#b5b5b5" stroke-width="1.3"/><circle cx="897" cy="1201.5" r="1.3" fill="#aaa"/><circle cx="907" cy="1201.5" r="1.3" fill="#aaa"/><circle cx="912.5" cy="1212.5" r="1.2" fill="#aaa"/><circle cx="921.5" cy="1212.5" r="1.2" fill="#aaa"/></g>
<text x="940.2" y="1214.5" font-size="26" fill="#9a9a9a" dominant-baseline="central">成都高新</text>
<text x="939" y="1213.3" font-size="26" fill="#f6f6f6" stroke="#c9c9c9" stroke-width="0.5" dominant-baseline="central">成都高新</text>
<rect x="0" y="1139" width="8.3" height="17" fill="#cf6a1f"/>
<text x="16.7" y="1147.8" font-size="15" fill="#555" font-weight="normal" text-anchor="start" dominant-baseline="central" >距天府广场 15 km (30分钟车程)</text>
<rect x="0" y="1174" width="8.3" height="17" fill="#7aab33"/>
<text x="16.7" y="1182.8" font-size="15" fill="#555" font-weight="normal" text-anchor="start" dominant-baseline="central" >距成都双流国际机场 12 km (25分钟车程)</text>
<rect x="0" y="1210" width="8.3" height="17" fill="#2a78b8"/>
<text x="16.7" y="1218.8" font-size="15" fill="#555" font-weight="normal" text-anchor="start" dominant-baseline="central" >距成都天府国际机场 (在建中) 40 km</text>
<rect x="0" y="1246.5" width="8.3" height="17" fill="#9a9a9a"/>
<text x="16.7" y="1255.3" font-size="15" fill="#555" font-weight="normal" text-anchor="start" dominant-baseline="central" >距火车东站 15 km (30分钟车程)</text>
</svg>
</body></html>
